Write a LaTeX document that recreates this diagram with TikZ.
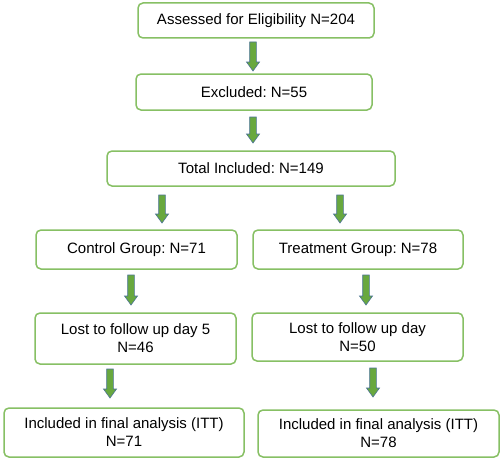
\documentclass[tikz,border=0pt]{standalone}
\usepackage{fontspec}
\setmainfont{Liberation Sans}
\frenchspacing
\definecolor{boxgreen}{RGB}{135,192,100}
\definecolor{arrowgreen}{RGB}{104,168,62}
\definecolor{arrowblue}{RGB}{75,115,150}
\tikzset{
  box/.style={draw=boxgreen, line width=1.5pt, rounded corners=5pt, fill=white,
    align=center, inner sep=0pt, font=\fontsize{15}{18}\selectfont\frenchspacing},
  blockarrow/.style={fill=arrowgreen, draw=arrowblue, line width=0.6pt, line join=miter},
  pics/dnarr/.style={code={
    \draw[blockarrow] (-3.3,0) -- (3.3,0) -- (3.3,#1-9) -- (6.5,#1-9) -- (0,#1)
      -- (-6.5,#1-9) -- (-3.3,#1-9) -- cycle;}}
}
\begin{document}
\begin{tikzpicture}[x=1pt,y=-1pt]
\useasboundingbox (0,0) rectangle (500,460);
\fill[white] (0,0) rectangle (500,460);
\node[box, minimum width=236pt, minimum height=35pt] (b1) at (256,20.5) {Assessed for Eligibility N=204};
\node[box, minimum width=236pt, minimum height=36pt] (b2) at (254,92) {Excluded: N=55};
\node[box, minimum width=288pt, minimum height=35pt] (b3) at (251,168.5) {Total Included: N=149};
\node[box, minimum width=201pt, minimum height=39pt] (c1) at (136.5,249.5) {Control Group: N=71};
\node[box, minimum width=210pt, minimum height=39pt] (t1) at (358,249.5) {Treatment Group: N=78};
\node[box, minimum width=201pt, minimum height=51pt] (c2) at (135.5,338.5) {Lost to follow up day 5\\N=46};
\node[box, minimum width=211pt, minimum height=48pt] (t2) at (357.5,337) {Lost to follow up day\\N=50};
\node[box, minimum width=240pt, minimum height=49pt] (c3) at (124,432.5) {Included in final analysis (ITT)\\N=71};
\node[box, minimum width=241pt, minimum height=47pt] (t3) at (378.5,433.5) {Included in final analysis (ITT)\\N=78};
\pic (a1) at (253,42) {dnarr=29};
\pic (a2) at (253,117) {dnarr=26};
\pic (a3) at (162,195) {dnarr=28};
\pic (a4) at (340,195) {dnarr=28};
\pic (a5) at (131,275) {dnarr=30};
\pic (a6) at (366,275) {dnarr=30};
\pic (a7) at (110,369) {dnarr=29};
\pic (a8) at (373,368) {dnarr=29};
\end{tikzpicture}
\end{document}
